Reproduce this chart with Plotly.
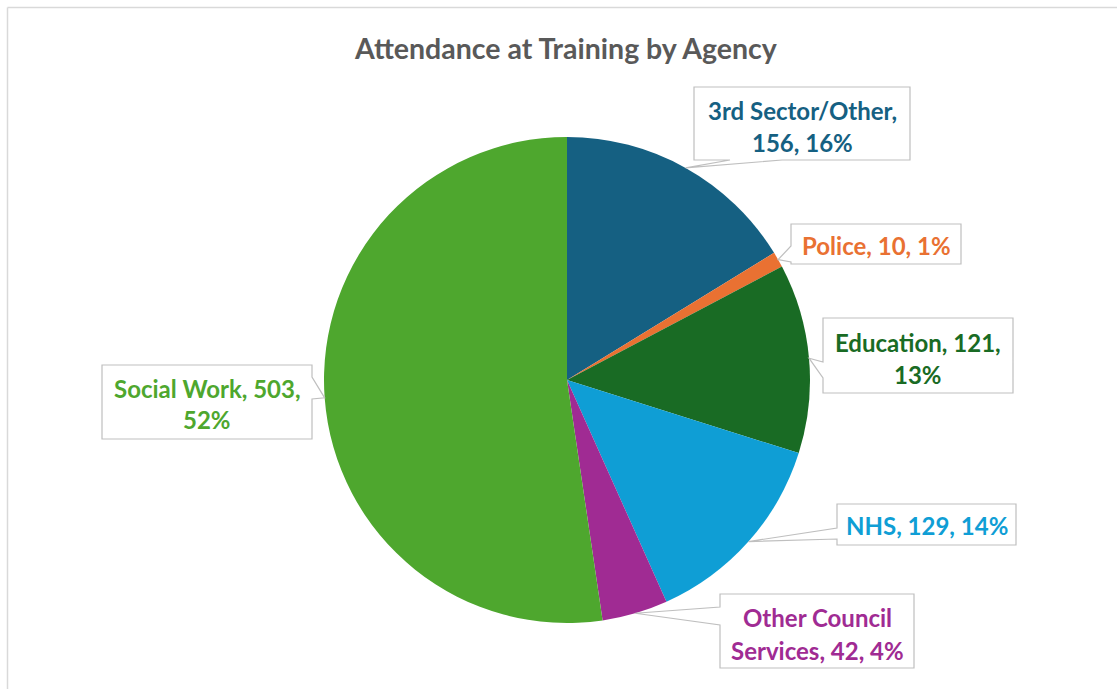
import math
import plotly.graph_objects as go

# ---- data ----
categories = ["3rd Sector/Other", "Police", "Education", "NHS", "Other Council Services", "Social Work"]
values = [156, 10, 121, 129, 42, 503]
percents = [16, 1, 13, 14, 4, 52]
colors = ["#156082", "#E97132", "#196B24", "#0F9ED5", "#A02B93", "#4EA72E"]
title_text = "Attendance at Training by Agency"

# ---- layout constants (pixels) ----
W, H = 1117, 689
CX, CY, R = 567, 380, 243
FONT = "Lato"
LABEL_SIZE = 24

def pxx(x):
    return x / W

def pxy(y):
    return 1 - y / H

# callout boxes: (x0, y0, x1, y1), side of wedge, wedge base (two coords along that side),
# number of words on the first line (None = single line), line centre y values
callouts = [
    dict(box=(694, 87, 910, 160), side="bottom", base=(730, 782), first=2, lines=(111, 143)),
    dict(box=(791, 224, 961, 264), side="left", base=(246, 262), first=None, lines=(245,)),
    dict(box=(823, 318, 1013, 393), side="left", base=(362, 378), first=2, lines=(342, 375)),
    dict(box=(837, 504, 1016, 545), side="left", base=(528, 539), first=None, lines=(525,)),
    dict(box=(720, 594, 914, 668), side="left", base=(607, 625), first=2, lines=(617, 650)),
    dict(box=(102, 365, 312, 439), side="right", base=(377, 399), first=3, lines=(388, 420)),
]

total = sum(values)
tips = []
cum = 0
for v in values:
    mid = (cum + v / 2) / total * 2 * math.pi
    tips.append((CX + R * math.sin(mid), CY - R * math.cos(mid)))
    cum += v

fig = go.Figure()
fig.add_trace(go.Pie(
    labels=categories,
    values=values,
    sort=False,
    direction="clockwise",
    rotation=0,
    marker=dict(colors=colors, line=dict(width=0)),
    textinfo="none",
    hoverinfo="label+value+percent",
    showlegend=False,
    domain=dict(x=[pxx(CX - R), pxx(CX + R)], y=[pxy(CY + R), pxy(CY - R)]),
))

shapes = []
annotations = []

# chart-area border (only top/left edges visible)
shapes.append(dict(type="line", xref="paper", yref="paper", x0=pxx(7.5), y0=pxy(7.5), x1=pxx(W + 20), y1=pxy(7.5),
                   line=dict(color="#d9d9d9", width=1.5)))
shapes.append(dict(type="line", xref="paper", yref="paper", x0=pxx(7.5), y0=pxy(7.5), x1=pxx(7.5), y1=pxy(H + 20),
                   line=dict(color="#d9d9d9", width=1.5)))

for i, c in enumerate(callouts):
    x0, y0, x1, y1 = c["box"]
    a, b = c["base"]
    tx, ty = tips[i]
    if c["side"] == "bottom":
        pts = [(x0, y0), (x1, y0), (x1, y1), (b, y1), (tx, ty), (a, y1), (x0, y1)]
    elif c["side"] == "left":
        pts = [(x0, y0), (x1, y0), (x1, y1), (x0, y1), (x0, b), (tx, ty), (x0, a)]
    else:  # right
        pts = [(x0, y0), (x1, y0), (x1, a), (tx, ty), (x1, b), (x1, y1), (x0, y1)]
    path = "M " + " L ".join(f"{pxx(px)},{pxy(py)}" for px, py in pts) + " Z"
    shapes.append(dict(type="path", xref="paper", yref="paper", path=path,
                       fillcolor="white", line=dict(color="#bfbfbf", width=1.2), layer="above"))

    full = f"{categories[i]}, {values[i]}, {percents[i]}%"
    words = full.split(" ")
    if c["first"] is None:
        lines = [full]
    else:
        lines = [" ".join(words[:c["first"]]), " ".join(words[c["first"]:])]
    for txt, ly in zip(lines, c["lines"]):
        annotations.append(dict(
            x=pxx((x0 + x1) / 2), y=pxy(ly), xref="paper", yref="paper",
            text=f"<b>{txt}</b>", showarrow=False, xanchor="center", yanchor="middle",
            font=dict(family=FONT, size=LABEL_SIZE, color=colors[i]),
        ))

annotations.append(dict(
    x=pxx(566), y=pxy(48), xref="paper", yref="paper",
    text=f"<b>{title_text}</b>", showarrow=False, xanchor="center", yanchor="middle",
    font=dict(family=FONT, size=28.5, color="#595959"),
))

fig.update_layout(
    width=W, height=H,
    margin=dict(l=0, r=0, t=0, b=0),
    paper_bgcolor="white",
    plot_bgcolor="white",
    shapes=shapes,
    annotations=annotations,
)

fig.write_html("out.html", config={"displayModeBar": False},
               post_script="document.body.style.margin='0';document.body.style.overflow='hidden';")
